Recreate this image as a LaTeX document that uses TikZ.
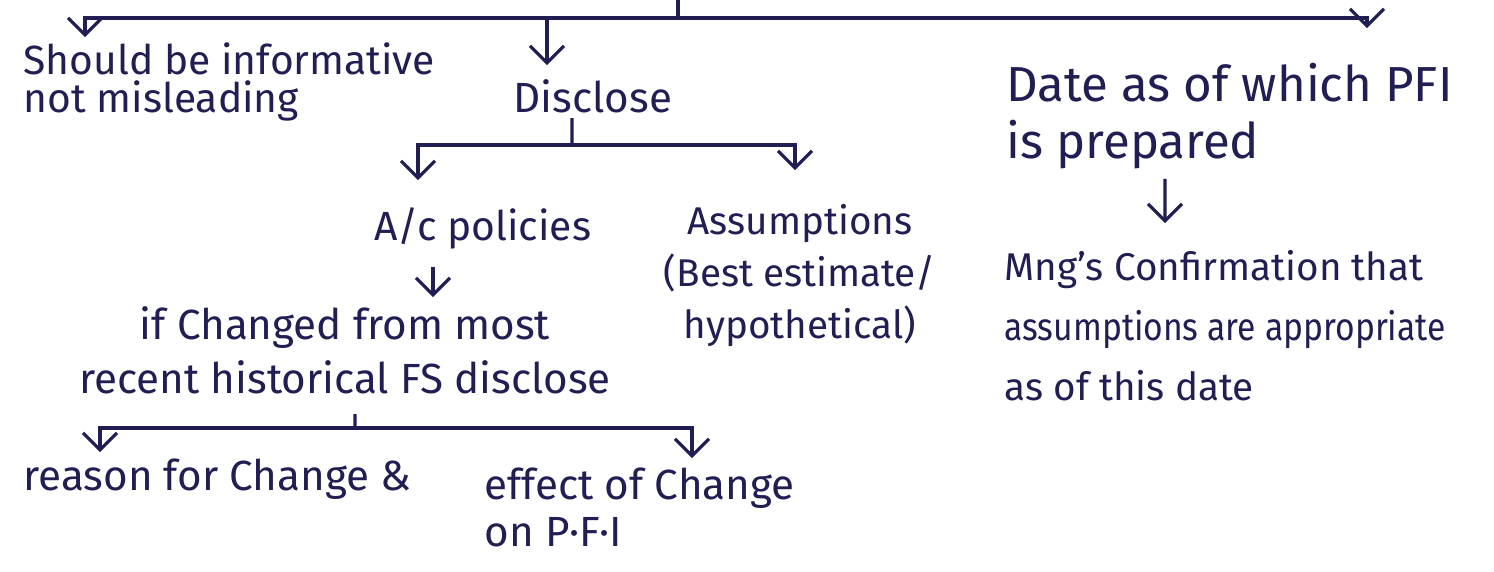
\documentclass[tikz,border=0pt]{standalone}
\usepackage{fontspec}
\setmainfont{Fira Sans}
\usepackage{graphicx}
\usepackage{tikz}
\usetikzlibrary{positioning, arrows.meta, calc}
\definecolor{ink}{RGB}{32,30,82}

\begin{document}
\begin{tikzpicture}[>={Straight Barb[length=1.7mm,width=3.4mm]}, line width=0.9pt, draw=ink,
    note/.style={inner sep=0pt, text=ink, align=left, font=\fontsize{12}{15.5}\selectfont},
    branch/.style={->, draw=ink}]
      \useasboundingbox (0,0) rectangle (14.94,-5.71);

      % top bracket, its stem comes from above the page
      \coordinate (root) at (6.78,0);
      \coordinate (rootj) at (6.78,-0.18);

      \node[note, anchor=north west, font=\fontsize{11.6}{10.8}\selectfont] (should) at (0.22,-0.41) {Should be informative\\not misleading};
      \node[note, anchor=base west] (disclose) at (5.12,-1.12) {Disclose};
      \node[note, anchor=north west, font=\fontsize{14}{16.2}\selectfont] (datepfi) at (10.05,-0.62) {Date as of which PFI\\is prepared};

      \coordinate (disin) at ($(disclose.base west)+(0.35,0.47)$);
      \draw (root) -- (rootj);
      \draw[branch] (rootj) -| ($(should.north west)+(0.63,0.04)$);
      \draw[branch] (rootj -| disin) -- (disin);
      \draw[branch] (rootj) -| ($(datepfi.north west)+(3.62,0.34)$);

      % disclose splits into policies and assumptions
      \node[note, anchor=base west, font=\fontsize{11.6}{15.5}\selectfont] (acpol) at (3.73,-2.40) {A/c policies};
      \node[note, anchor=north, align=center, font=\fontsize{11}{14.8}\selectfont] (assume) at (8.0,-2.03) {Assumptions\\(Best estimate/\\hypothetical)};

      \coordinate (discj) at (5.72,-1.45);
      \draw ($(disclose.base west)+(0.60,-0.06)$) -- (discj);
      \draw[branch] (discj) -| ($(acpol.base west)+(0.45,0.60)$);
      \draw[branch] (discj) -| ($(assume.north)+(-0.05,0.33)$);

      % policies lead to the change note
      \node[note, anchor=north, align=center] (ifchg) at (3.45,-3.05) {if Changed from most\\recent historical FS disclose};
      \draw[branch] ($(acpol.base west)+(0.60,-0.27)$) -- ($(ifchg.north)+(0.88,0.08)$);

      % change splits into reason and effect
      \node[note, anchor=base west] (reason) at (0.22,-4.90) {reason for Change \&};
      \node[note, anchor=north west, font=\fontsize{12}{13.4}\selectfont] (effect) at (4.83,-4.66) {effect of Change\\on P·F·I};

      \coordinate (chgj) at (3.55,-4.28);
      \draw ($(ifchg.south)+(0.10,-0.18)$) -- (chgj);
      \draw[branch] (chgj) -| ($(reason.base west)+(0.78,0.38)$);
      \draw[branch] (chgj) -| ($(effect.north west)+(2.09,0.08)$);

      % date leads to the confirmation
      \node[note, anchor=north west, font=\fontsize{11}{17}\selectfont] (mngconf) at (10.03,-2.49) {Mng's Confirmation that\\\scalebox{0.87}[1]{assumptions are appropriate}\\as of this date};
      \draw[branch] ($(datepfi.south west)+(1.60,-0.08)$) -- ($(mngconf.north west)+(1.62,0.26)$);

    \end{tikzpicture}
\end{document}
